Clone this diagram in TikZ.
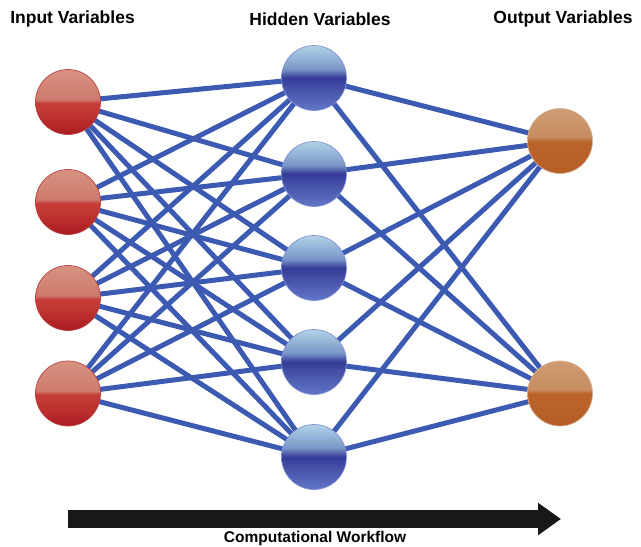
\documentclass[tikz,border=0pt]{standalone}
\usepackage{fontspec}
\setmainfont{Liberation Sans}
\usetikzlibrary{arrows.meta,backgrounds}
\definecolor{wire}{RGB}{60,90,178}
\definecolor{flow}{RGB}{24,24,24}
\definecolor{inD}{RGB}{172,28,34}\definecolor{inM}{RGB}{196,58,52}
\definecolor{inL}{RGB}{206,122,108}\definecolor{inT}{RGB}{216,146,130}
\definecolor{hidD}{RGB}{52,58,150}\definecolor{hidB}{RGB}{98,118,198}
\definecolor{hidL}{RGB}{122,150,200}\definecolor{hidT}{RGB}{178,210,232}
\definecolor{outD}{RGB}{182,94,40}\definecolor{outM}{RGB}{186,100,44}
\definecolor{outL}{RGB}{200,140,96}\definecolor{outT}{RGB}{206,156,116}
\pgfdeclareverticalshading{inball}{100bp}{color(0bp)=(inD); color(25bp)=(inD);
  color(45bp)=(inM); color(49bp)=(inM); color(52bp)=(inL); color(75bp)=(inT); color(100bp)=(inT)}
\pgfdeclareverticalshading{hidball}{100bp}{color(0bp)=(hidB); color(25bp)=(hidB);
  color(44bp)=(hidD!70!hidB); color(50bp)=(hidD); color(57bp)=(hidL); color(75bp)=(hidT); color(100bp)=(hidT)}
\pgfdeclareverticalshading{outball}{100bp}{color(0bp)=(outD); color(25bp)=(outD);
  color(48bp)=(outM); color(50bp)=(outM); color(53bp)=(outL); color(75bp)=(outT); color(100bp)=(outT)}

\begin{document}
\begin{tikzpicture}[x=1pt,y=-1pt,>={Latex},
  unit/.style={circle,minimum size=65pt,inner sep=0pt,line width=0.7pt},
  inunit/.style={unit,shading=inball,draw=inD!60!inL},
  hidunit/.style={unit,shading=hidball,draw=hidB!80!white},
  outunit/.style={unit,shading=outball,draw=outT!80!white},
  link/.style={draw=wire,line width=5pt},
  lab/.style={font=\fontsize{17.5}{20}\selectfont\bfseries,inner sep=0pt}]
  \useasboundingbox (0,0) rectangle (641,547);
  % layers
  \foreach \y [count=\i] in {102,202,298,393.5} \node[inunit] (i\i) at (68,\y) {};
  \foreach \y [count=\j] in {78,174,268,362,457} \node[hidunit] (h\j) at (314,\y) {};
  \node[outunit] (o1) at (560,141) {}; \node[outunit] (o2) at (560,393.5) {};
  % connections
  \begin{scope}[on background layer]
    \foreach \i in {1,...,4} \foreach \j in {1,...,5} \draw[link] (i\i.center)--(h\j.center);
    \foreach \j in {1,...,5} \foreach \k in {1,2} \draw[link] (h\j.center)--(o\k.center);
  \end{scope}
  \node[lab] (tin) at (72.5,19) {Input Variables};
  \node[lab] (thid) at (320,19) {Hidden Variables};
  \node[lab] (tout) at (563,19) {Output Variables};
  \coordinate (wf0) at (68,519); \coordinate (wf1) at (561,519);
  \draw[flow,line width=18pt,-{Triangle[length=23pt,width=31pt]}] (wf0)--(wf1);
  \node[lab,font=\fontsize{15.5}{18}\selectfont\bfseries] (wf) at (315,538) {Computational Workflow};
\end{tikzpicture}
\end{document}
